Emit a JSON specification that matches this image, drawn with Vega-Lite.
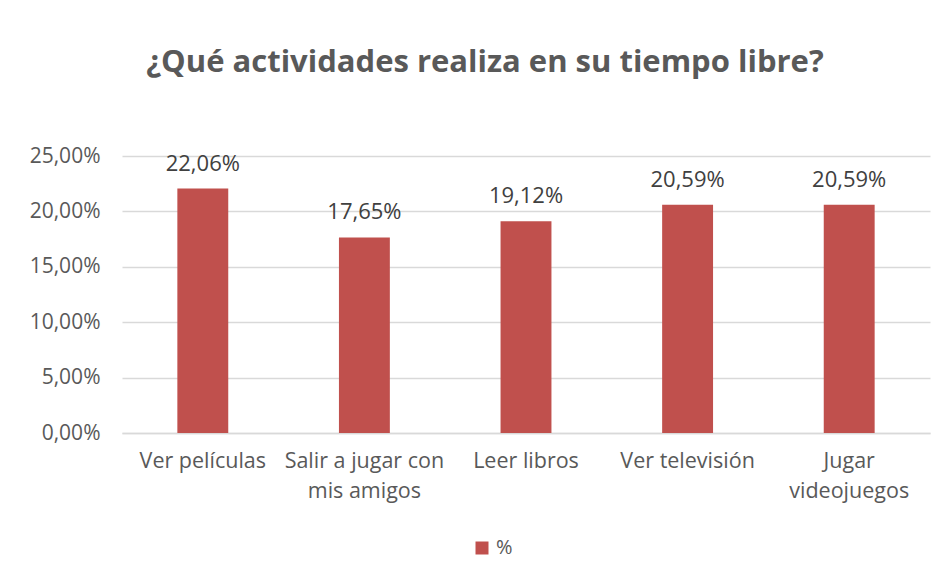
{
  "$schema": "https://vega.github.io/schema/vega-lite/v6.json",
  "width": 808,
  "height": 277,
  "autosize": {"type": "none"},
  "padding": {"left": 122, "top": 156, "right": 19, "bottom": 144},
  "background": "white",
  "title": {
    "text": "¿Qué actividades realiza en su tiempo libre?",
    "font": "Open Sans",
    "fontSize": 31,
    "fontWeight": "bold",
    "color": "#595959",
    "anchor": "middle",
    "offset": 66,
    "dx": -41
  },
  "data": {
    "values": [
      {"actividad": "Ver películas", "pct": 0.2206},
      {"actividad": "Salir a jugar con mis amigos", "pct": 0.1765},
      {"actividad": "Leer libros", "pct": 0.1912},
      {"actividad": "Ver televisión", "pct": 0.2059},
      {"actividad": "Jugar videojuegos", "pct": 0.2059}
    ]
  },
  "encoding": {
    "x": {
      "field": "actividad",
      "type": "nominal",
      "sort": null,
      "title": null,
      "scale": {"paddingInner": 0.685, "paddingOuter": 0.3425},
      "axis": {
        "labelAngle": 0,
        "labelFont": "Open Sans",
        "labelFontSize": 21.5,
        "labelColor": "#595959",
        "labelPadding": 17,
        "labelLineHeight": 30,
        "labelBaseline": "top",
        "labelLimit": 300,
        "ticks": false,
        "domainColor": "#D9D9D9",
        "domainWidth": 1.5,
        "labelExpr": "datum.value == 'Salir a jugar con mis amigos' ? ['Salir a jugar con', 'mis amigos'] : datum.value == 'Jugar videojuegos' ? ['Jugar', 'videojuegos'] : datum.value"
      }
    },
    "y": {
      "field": "pct",
      "type": "quantitative",
      "title": null,
      "scale": {"domain": [0, 0.25], "nice": false},
      "axis": {
        "values": [0, 0.05, 0.1, 0.15, 0.2, 0.25],
        "format": ".2%",
        "labelFont": "Open Sans",
        "labelFontSize": 21,
        "labelColor": "#595959",
        "labelPadding": 22,
        "ticks": false,
        "domain": false,
        "gridColor": "#D9D9D9",
        "gridWidth": 1.5
      }
    }
  },
  "layer": [
    {
      "mark": {"type": "bar", "color": "#C0504D"},
      "encoding": {
        "color": {
          "datum": "%",
          "type": "nominal",
          "scale": {"range": ["#C0504D"]},
          "legend": {
            "title": null,
            "orient": "none",
            "legendX": 350,
            "legendY": 382,
            "symbolType": "square",
            "symbolSize": 169,
            "symbolStrokeWidth": 0,
            "labelFont": "Open Sans",
            "labelFontSize": 20,
            "labelColor": "#595959",
            "padding": 0
          }
        }
      }
    },
    {
      "mark": {
        "type": "text",
        "font": "Open Sans",
        "fontSize": 22,
        "color": "#404040",
        "baseline": "alphabetic",
        "dy": -18
      },
      "encoding": {
        "text": {"field": "pct", "type": "quantitative", "format": ".2%"}
      }
    }
  ],
  "config": {
    "view": {"stroke": null},
    "locale": {
      "number": {
        "decimal": ",",
        "thousands": ".",
        "grouping": [3],
        "currency": ["", " €"]
      }
    }
  }
}
